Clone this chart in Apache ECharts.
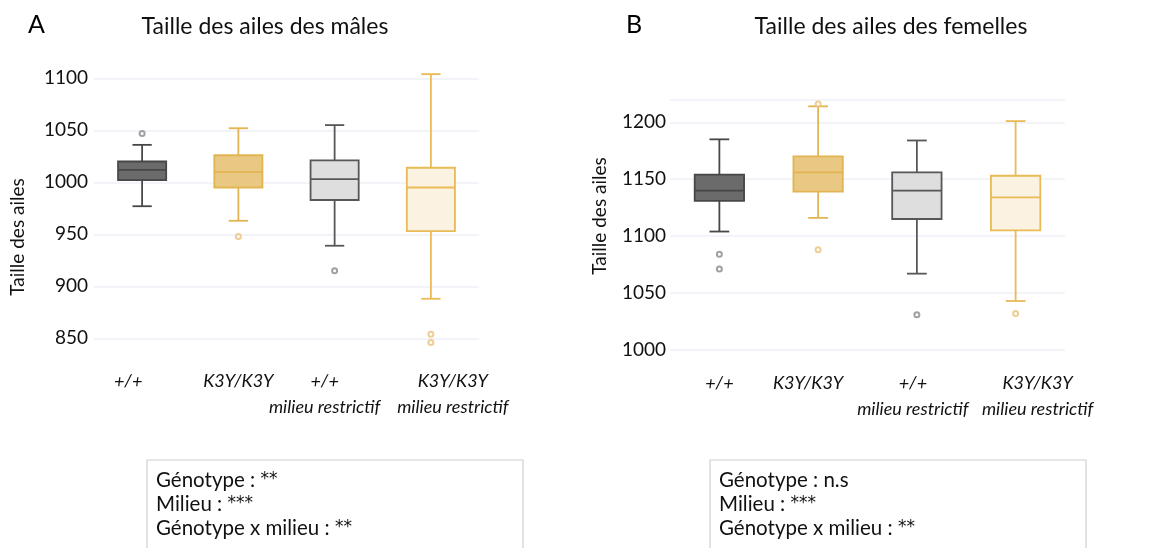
<!DOCTYPE html>
<html><head><meta charset="utf-8">
<script src="https://cdn.jsdelivr.net/npm/echarts@6/dist/echarts.min.js"></script>
<style>html,body{margin:0;padding:0;background:#fff}#c{width:1149px;height:548px}</style>
</head><body><div id="c"></div>
<script>
const categories = ['+/+', 'K3Y/K3Y', '+/+\nmilieu restrictif', 'K3Y/K3Y\nmilieu restrictif'];
// [min whisker, Q1, median, Q3, max whisker]
const malesBoxes = [
  [977, 1002, 1012, 1020, 1036],
  [963, 995, 1010, 1026, 1052],
  [939, 983, 1003, 1021, 1055],
  [888, 953, 995, 1014, 1104]
];
const malesOutliers = [[0, 1047], [1, 948], [2, 915], [3, 854], [3, 846]];
const femalesBoxes = [
  [1104, 1131, 1140, 1154, 1185],
  [1116, 1139, 1156, 1170, 1214],
  [1067, 1115, 1140, 1156, 1184],
  [1043, 1105, 1134, 1153, 1201]
];
const femalesOutliers = [[0, 1084], [0, 1071], [1, 1216], [1, 1088], [2, 1031], [3, 1032]];
const malesTicks = [850, 900, 950, 1000, 1050, 1100];
const femalesTicks = [1000, 1050, 1100, 1150, 1200];
const statsA = [['Génotype : ', '**'], ['Milieu : ', '***'], ['Génotype x milieu : ', '**']];
const statsB = [['Génotype : n.s', ''], ['Milieu : ', '***'], ['Génotype x milieu : ', '**']];

const fills = ['#6b6b6b', '#e8c883', '#dedede', '#fbf2e1'];
const strokes = ['#474747', '#e2b552', '#575757', '#e9ba55'];
const outlierColors = ['#8a8a8a', '#eac27a', '#8a8a8a', '#eac27a'];
const FONT = 'Lato, "Open Sans", sans-serif';

function renderBox(params, api) {
  const i = params.dataIndex;
  const x = api.value(0);
  const pLo = api.coord([x, api.value(1)]);
  const pQ1 = api.coord([x, api.value(2)]);
  const pMed = api.coord([x, api.value(3)]);
  const pQ3 = api.coord([x, api.value(4)]);
  const pHi = api.coord([x, api.value(5)]);
  const band = api.size([1, 0])[0];
  const bw = band * 0.5, cw = bw * 0.4;
  const cx = pMed[0];
  const ls = { stroke: strokes[i], lineWidth: 1.8, fill: null };
  return {
    type: 'group',
    children: [
      { type: 'line', shape: { x1: cx, y1: pHi[1], x2: cx, y2: pQ3[1] }, style: ls },
      { type: 'line', shape: { x1: cx, y1: pLo[1], x2: cx, y2: pQ1[1] }, style: ls },
      { type: 'line', shape: { x1: cx - cw / 2, y1: pHi[1], x2: cx + cw / 2, y2: pHi[1] }, style: ls },
      { type: 'line', shape: { x1: cx - cw / 2, y1: pLo[1], x2: cx + cw / 2, y2: pLo[1] }, style: ls },
      { type: 'rect', shape: { x: cx - bw / 2, y: pQ3[1], width: bw, height: pQ1[1] - pQ3[1] },
        style: { fill: fills[i], stroke: strokes[i], lineWidth: 1.8 } },
      { type: 'line', shape: { x1: cx - bw / 2, y1: pMed[1], x2: cx + bw / 2, y2: pMed[1] }, style: ls }
    ]
  };
}
function boxData(arr) { return arr.map((v, i) => [i].concat(v)); }
function outData(arr) {
  return arr.map(p => ({ value: p, itemStyle: { color: '#fff', borderColor: outlierColors[p[0]], borderWidth: 2 } }));
}
function xAxisFor(gridIndex, offsets) {
  const rich = {};
  offsets.forEach((d, k) => {
    rich['s' + k] = { fontFamily: FONT, fontSize: 18, fontStyle: 'italic', color: '#111', lineHeight: 26,
      padding: d >= 0 ? [0, 0, 0, 2 * d] : [0, -2 * d, 0, 0] };
  });
  return {
    type: 'category', data: categories, gridIndex: gridIndex,
    axisLine: { show: false }, axisTick: { show: false }, splitLine: { show: false },
    axisLabel: { interval: 0, margin: 9, fontFamily: FONT, fontSize: 18, fontStyle: 'italic', color: '#111', lineHeight: 26,
      formatter: (val, idx) => val.split('\n').map(l => '{s' + idx + '|' + l + '}').join('\n'), rich: rich }
  };
}
const yAxisBase = {
  type: 'value', axisLine: { show: false },
  splitLine: { show: true, lineStyle: { color: '#eef0f7', width: 1.5 } }
};
const labelFmt = v => String(v);
function statsText(lines) {
  return lines.map(l => '{t|' + l[0] + '}' + (l[1] ? '{st|' + l[1] + '}' : '')).join('\n');
}
const statsRich = {
  t: { fontFamily: FONT, fontSize: 20.5, lineHeight: 24, fill: '#111' },
  st: { fontFamily: '"DejaVu Sans", sans-serif', fontSize: 17, lineHeight: 24, fill: '#111' }
};

const chart = echarts.init(document.getElementById('c'));
chart.setOption({
  backgroundColor: '#fff',
  animation: false,
  grid: [
    { left: 94, width: 385, top: 67.9, height: 291.2 },
    { left: 670, width: 395, top: 99.5, height: 261.8 }
  ],
  xAxis: [ xAxisFor(0, [-14, 0, -10, 22]), xAxisFor(1, [0, -10, -4, 22]) ],
  yAxis: [
    Object.assign({}, yAxisBase, { gridIndex: 0, min: 830, max: 1110,
      axisTick: { show: false, customValues: malesTicks },
      axisLabel: { customValues: malesTicks, formatter: labelFmt, fontFamily: FONT, fontSize: 19, color: '#111', margin: 6 } }),
    Object.assign({}, yAxisBase, { gridIndex: 1, min: 990, max: 1220,
      axisTick: { show: false, customValues: femalesTicks.concat([1220]) },
      axisLabel: { customValues: femalesTicks, formatter: labelFmt, fontFamily: FONT, fontSize: 19, color: '#111', margin: 4 } })
  ],
  series: [
    { type: 'custom', xAxisIndex: 0, yAxisIndex: 0, renderItem: renderBox, encode: { x: 0, y: [1, 2, 3, 4, 5] }, data: boxData(malesBoxes) },
    { type: 'scatter', xAxisIndex: 0, yAxisIndex: 0, symbolSize: 5, data: outData(malesOutliers) },
    { type: 'custom', xAxisIndex: 1, yAxisIndex: 1, renderItem: renderBox, encode: { x: 0, y: [1, 2, 3, 4, 5] }, data: boxData(femalesBoxes) },
    { type: 'scatter', xAxisIndex: 1, yAxisIndex: 1, symbolSize: 5, data: outData(femalesOutliers) }
  ],
  graphic: [
    { type: 'text', left: 28, top: 12, style: { text: 'A', font: '25px ' + FONT, fill: '#000' } },
    { type: 'text', left: 626, top: 12, style: { text: 'B', font: '25px ' + FONT, fill: '#000' } },
    { type: 'text', x: 265, y: 27, style: { text: 'Taille des ailes des mâles', font: '23px ' + FONT, fill: '#111', align: 'center', verticalAlign: 'middle' } },
    { type: 'text', x: 891, y: 27, style: { text: 'Taille des ailes des femelles', font: '23px ' + FONT, fill: '#111', align: 'center', verticalAlign: 'middle' } },
    { type: 'text', x: 18, y: 237, rotation: Math.PI / 2, style: { text: 'Taille des ailes', font: '19px ' + FONT, fill: '#111', align: 'center', verticalAlign: 'middle' } },
    { type: 'text', x: 600, y: 216, rotation: Math.PI / 2, style: { text: 'Taille des ailes', font: '19px ' + FONT, fill: '#111', align: 'center', verticalAlign: 'middle' } },
    { type: 'rect', shape: { x: 147, y: 460, width: 376, height: 100 }, style: { fill: '#fff', stroke: '#cfcfcf', lineWidth: 1.2 } },
    { type: 'rect', shape: { x: 710, y: 460, width: 376, height: 100 }, style: { fill: '#fff', stroke: '#cfcfcf', lineWidth: 1.2 } },
    { type: 'text', x: 156, y: 468, style: { text: statsText(statsA), rich: statsRich } },
    { type: 'text', x: 719, y: 468, style: { text: statsText(statsB), rich: statsRich } }
  ]
});
</script></body></html>
